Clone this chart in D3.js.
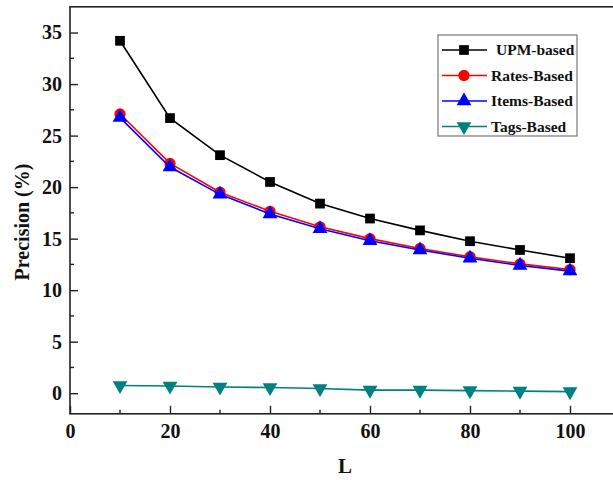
<!DOCTYPE html>
<meta charset="utf-8">
<style>
body { margin: 0; background: #fff; }
</style>
<body>
<script src="https://d3js.org/d3.v7.min.js"></script>
<script>

// data
var L = [10, 20, 30, 40, 50, 60, 70, 80, 90, 100];
var upm   = [34.2, 26.7, 23.1, 20.5, 18.4, 16.95, 15.8, 14.75, 13.9, 13.1];
var rates = [27.1, 22.3, 19.5, 17.65, 16.15, 15.0, 14.05, 13.25, 12.55, 12.0];
var items = [26.75, 21.95, 19.3, 17.4, 15.95, 14.8, 13.9, 13.1, 12.4, 11.85];
var tags  = [0.75, 0.7, 0.6, 0.55, 0.45, 0.3, 0.3, 0.25, 0.2, 0.15];
var seriesNames = ["UPM-based", "Rates-Based", "Items-Based", "Tags-Based"];
var xTicks = [0, 20, 40, 60, 80, 100];
var yTicks = [0, 5, 10, 15, 20, 25, 30, 35];

var width = 613, height = 480;
var serif = "'Liberation Serif', 'Times New Roman', Times, serif";

var x = d3.scaleLinear().domain([0, 110]).range([70, 620]);
var y = d3.scaleLinear().domain([-2, 37.5]).range([413.8, 6.8]);

var svg = d3.select("body").append("svg")
    .attr("width", width)
    .attr("height", height)
    .style("font-family", serif)
    .style("font-weight", "bold");

// frame
svg.append("rect")
    .attr("x", x(0)).attr("y", y(37.5))
    .attr("width", x(110) - x(0)).attr("height", y(-2) - y(37.5))
    .attr("fill", "none").attr("stroke", "#222").attr("stroke-width", 1.6);

// minor ticks
var minorX = d3.range(10, 110, 20);
var minorY = d3.range(2.5, 37.5, 5);
svg.append("g").selectAll("line").data(minorX).enter().append("line")
    .attr("x1", d => x(d)).attr("x2", d => x(d))
    .attr("y1", y(-2)).attr("y2", y(-2) - 4)
    .attr("stroke", "#222").attr("stroke-width", 1.4);
svg.append("g").selectAll("line").data(minorY).enter().append("line")
    .attr("x1", x(0)).attr("x2", x(0) + 4)
    .attr("y1", d => y(d)).attr("y2", d => y(d))
    .attr("stroke", "#222").attr("stroke-width", 1.4);

// axes with inner ticks
var xAxis = svg.append("g")
    .attr("transform", "translate(0," + y(-2) + ")")
    .call(d3.axisBottom(x).tickValues(xTicks).tickSize(-8).tickPadding(10));
var yAxis = svg.append("g")
    .attr("transform", "translate(" + x(0) + ",0)")
    .call(d3.axisLeft(y).tickValues(yTicks).tickSize(-8).tickPadding(8));

[xAxis, yAxis].forEach(function(a) {
  a.attr("font-family", null).attr("font-size", null);
  a.select(".domain").remove();
  a.selectAll("line").attr("stroke", "#222").attr("stroke-width", 1.4);
  a.selectAll("text")
    .style("font-family", serif).style("font-weight", "bold")
    .style("font-size", "20px").attr("fill", "#111");
});

// axis titles
svg.append("text")
    .attr("x", 345).attr("y", 473)
    .attr("text-anchor", "middle")
    .style("font-size", "21px").attr("fill", "#111")
    .text("L");
svg.append("text")
    .attr("transform", "translate(29,222) rotate(-90)")
    .attr("text-anchor", "middle")
    .style("font-size", "20px").attr("fill", "#111")
    .text("Precision (%)");

var series = [
  {name: seriesNames[0], values: upm,   color: "#000000", symbol: d3.symbolSquare,   size: 95,  rot: 0},
  {name: seriesNames[1], values: rates, color: "#ff0000", symbol: d3.symbolCircle,   size: 100, rot: 0},
  {name: seriesNames[2], values: items, color: "#0000ff", symbol: d3.symbolTriangle, size: 95,  rot: 0},
  {name: seriesNames[3], values: tags,  color: "#008080", symbol: d3.symbolTriangle, size: 95,  rot: 180}
];

var line = d3.line()
    .x(function(d, i) { return x(L[i]); })
    .y(function(d) { return y(d); });

series.forEach(function(s) {
  svg.append("path")
      .attr("d", line(s.values))
      .attr("fill", "none")
      .attr("stroke", s.color)
      .attr("stroke-width", 1.6);
  svg.append("g").selectAll("path").data(s.values).enter().append("path")
      .attr("d", d3.symbol().type(s.symbol).size(s.size))
      .attr("transform", function(d, i) {
        return "translate(" + x(L[i]) + "," + y(d) + ") rotate(" + s.rot + ")";
      })
      .attr("fill", s.color);
});

// legend
var legend = svg.append("g");
legend.append("rect")
    .attr("x", 438).attr("y", 35).attr("width", 139).attr("height", 101)
    .attr("fill", "#fff").attr("stroke", "#777").attr("stroke-width", 1.2);

series.forEach(function(s, i) {
  var ly = 50 + i * 25.5;
  legend.append("line")
      .attr("x1", 442).attr("x2", 487)
      .attr("y1", ly).attr("y2", ly)
      .attr("stroke", s.color).attr("stroke-width", 1.6);
  legend.append("path")
      .attr("d", d3.symbol().type(s.symbol).size(s.size))
      .attr("transform", "translate(464," + ly + ") rotate(" + s.rot + ")")
      .attr("fill", s.color);
  legend.append("text")
      .attr("x", i === 0 ? 496 : 491).attr("y", ly + 5)
      .style("font-size", "15.5px").attr("fill", "#111")
      .text(s.name);
});

</script>
</body>
</html>
